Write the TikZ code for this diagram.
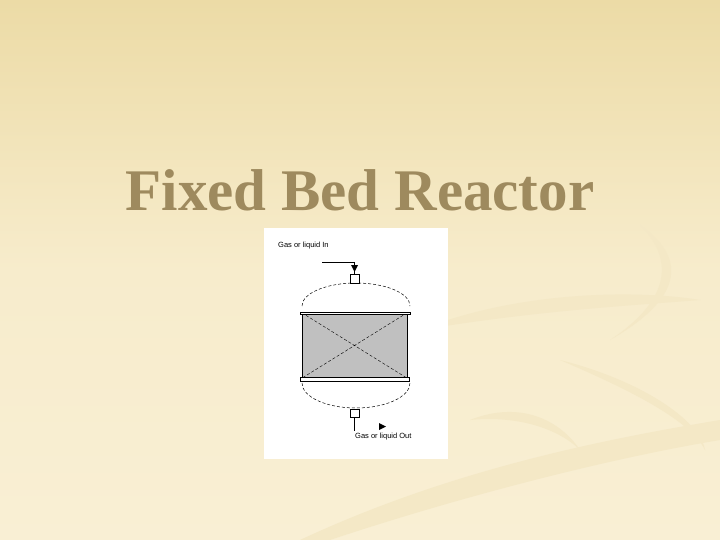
\documentclass[tikz,border=0pt]{standalone}
\usepackage{fontspec}
\setmainfont{Liberation Serif}
\newfontfamily\lab{Liberation Sans}
\definecolor{bgtop}{RGB}{236,219,166}
\definecolor{bgmid}{RGB}{247,236,204}
\definecolor{bgbot}{RGB}{249,239,212}
\definecolor{swoosh}{RGB}{244,232,198}
\definecolor{titlec}{RGB}{158,138,94}
\definecolor{bedgray}{RGB}{192,192,192}
\begin{document}
\begin{tikzpicture}[x=1pt,y=-1pt,
  dome/.style={densely dashed,line width=0.5pt},
  thin/.style={line width=0.6pt},
  lbl/.style={font=\lab\fontsize{7.5}{8}\selectfont,inner sep=0pt}]
\useasboundingbox (0,0) rectangle (720,540);
\shade[top color=bgtop,bottom color=bgbot,middle color=bgmid] (0,0) rectangle (720,540);
% decorative swooshes
\fill[swoosh] (420,330) .. controls (520,290) and (640,290) .. (700,300) .. controls (640,305) and (540,310) .. (420,330) -- cycle;
\fill[swoosh] (640,225) .. controls (690,260) and (680,300) .. (610,340) .. controls (670,300) and (675,260) .. (640,225) -- cycle;
\fill[swoosh] (560,360) .. controls (640,380) and (700,420) .. (705,450) .. controls (690,420) and (630,390) .. (560,360) -- cycle;
\fill[swoosh] (300,540) .. controls (450,470) and (600,440) .. (720,420) -- (720,440) .. controls (600,460) and (450,500) .. (330,540) -- cycle;
\fill[swoosh] (470,420) .. controls (520,400) and (560,420) .. (580,450) .. controls (560,430) and (520,415) .. (470,420) -- cycle;
\node[font=\bfseries\fontsize{59}{66}\selectfont,text=titlec] (title) at (360,190) {Fixed Bed Reactor};
% white panel
\node[fill=white,minimum width=184pt,minimum height=231pt,inner sep=0pt] (panel) at (356,343.5) {};
% vessel
\node[draw,thin,fill=bedgray,minimum width=105pt,minimum height=65pt,inner sep=0pt] (bed) at (354.5,345.5) {};
\draw[densely dashed,line width=0.4pt] (bed.north west) -- (bed.south east) (bed.north east) -- (bed.south west);
\node[draw,thin,fill=white,minimum width=110pt,minimum height=2pt,inner sep=0pt] (tplate) at (355,313) {};
\node[draw,thin,fill=white,minimum width=109pt,minimum height=4pt,inner sep=0pt] (bplate) at (354.5,379) {};
\draw[dome] (302,306) arc[start angle=180,end angle=360,x radius=54,y radius=23];
\draw[dome] (302,383) arc[start angle=180,end angle=0,x radius=54,y radius=25];
\node[draw,thin,fill=white,minimum width=9pt,minimum height=9pt,inner sep=0pt] (tnoz) at (354.5,278.5) {};
\node[draw,thin,fill=white,minimum width=9pt,minimum height=8pt,inner sep=0pt] (bnoz) at (354.5,413) {};
\coordinate (inA) at (322,262);
\coordinate (inB) at (354.5,262);
\coordinate (outE) at (354.5,431);
\draw[thin] (inA) -- (inB) -- (tnoz.north);
\fill (351,265) -- (358,265) -- (354.5,272) -- cycle;
\draw[thin] (bnoz.south) -- (outE);
\fill (379,423) -- (379,430) -- (386,426.5) -- cycle;
\node[lbl,anchor=west] (inlbl) at (278,246) {Gas or liquid In};
\node[lbl,anchor=west] (outlbl) at (355,437) {Gas or liquid Out};
\end{tikzpicture}
\end{document}
